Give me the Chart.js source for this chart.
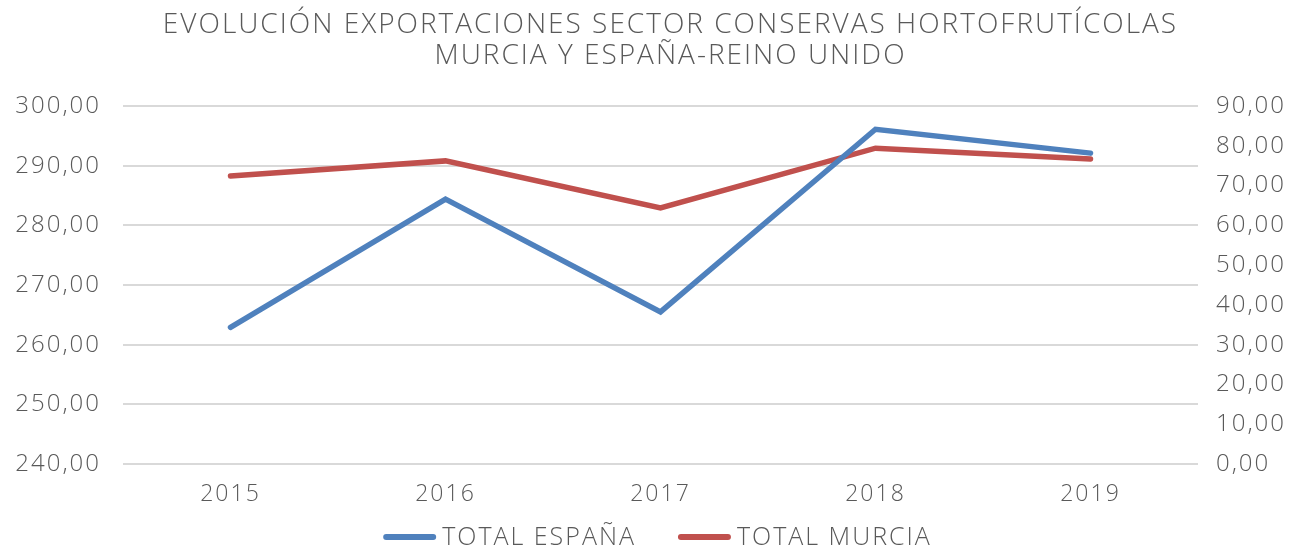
<!DOCTYPE html>
<html>
<head>
<meta charset="utf-8">
<script src="https://cdn.jsdelivr.net/npm/chart.js@4"></script>
<style>
  html, body { margin: 0; padding: 0; background: #fff; }
  #wrap { width: 1297px; height: 550px; }
</style>
</head>
<body>
<div id="wrap"><canvas id="chart" width="1297" height="550"></canvas></div>
<script>
  'use strict';

  var years = ['2015', '2016', '2017', '2018', '2019'];
  var totalEspana = [262.9, 284.4, 265.5, 296.1, 292.1];
  var totalMurcia = [72.4, 76.2, 64.4, 79.4, 76.7];
  var titleLines = ['EVOLUCIÓN EXPORTACIONES SECTOR CONSERVAS HORTOFRUTÍCOLAS', 'MURCIA Y ESPAÑA-REINO UNIDO'];

  var textColor = '#595959';
  var gridColor = '#d9d9d9';
  var fontFamily = '"Open Sans", Lato, sans-serif';

  function fmt(v) {
    return v.toFixed(2).replace('.', ',');
  }

  // letras más espaciadas, la fuente original es más ancha
  var spacing = {
    id: 'spacing',
    beforeUpdate: function (chart) { chart.ctx.letterSpacing = '2px'; },
    beforeDraw: function (chart) { chart.ctx.letterSpacing = '2px'; }
  };

  // título centrado sobre el área del gráfico (un poco a la derecha)
  var titulo = {
    id: 'titulo',
    afterDraw: function (chart) {
      var ctx = chart.ctx;
      ctx.save();
      ctx.letterSpacing = '2px';
      ctx.fillStyle = textColor;
      ctx.font = '300 28px ' + fontFamily;
      ctx.textAlign = 'center';
      ctx.textBaseline = 'middle';
      var cx = (chart.chartArea.left + chart.chartArea.right) / 2 + 10;
      titleLines.forEach(function (t, i) {
        ctx.fillText(t, cx, 25 + i * 31);
      });
      ctx.restore();
    }
  };

  // leyenda abajo: línea corta + texto, como en Excel
  var leyenda = {
    id: 'leyenda',
    afterDraw: function (chart) {
      var ctx = chart.ctx;
      var sets = chart.data.datasets;
      var lineW = 50, gap = 9, itemGap = 42, y = 537;
      ctx.save();
      ctx.letterSpacing = '2px';
      ctx.font = '300 25px ' + fontFamily;
      var widths = sets.map(function (d) { return ctx.measureText(d.label).width; });
      var total = 0;
      widths.forEach(function (w, i) { total += lineW + gap + w + (i > 0 ? itemGap : 0); });
      var x = (chart.chartArea.left + chart.chartArea.right) / 2 - 3 - total / 2;
      sets.forEach(function (d, i) {
        ctx.strokeStyle = d.borderColor;
        ctx.lineWidth = 6;
        ctx.lineCap = 'round';
        ctx.beginPath();
        ctx.moveTo(x + 3, y);
        ctx.lineTo(x + lineW, y);
        ctx.stroke();
        ctx.fillStyle = textColor;
        ctx.textBaseline = 'middle';
        ctx.textAlign = 'left';
        ctx.fillText(d.label, x + lineW + gap, y + 1);
        x += lineW + gap + widths[i] + itemGap;
      });
      ctx.restore();
    }
  };

  new Chart(document.getElementById('chart').getContext('2d'), {
    type: 'line',
    data: {
      labels: years,
      datasets: [{
        label: 'TOTAL ESPAÑA',
        data: totalEspana,
        borderColor: '#4f81bd',
        backgroundColor: '#4f81bd',
        borderWidth: 5.5,
        pointRadius: 0,
        borderCapStyle: 'round',
        yAxisID: 'y'
      }, {
        label: 'TOTAL MURCIA',
        data: totalMurcia,
        borderColor: '#c0504d',
        backgroundColor: '#c0504d',
        borderWidth: 5.5,
        pointRadius: 0,
        borderCapStyle: 'round',
        yAxisID: 'y1'
      }]
    },
    plugins: [spacing, titulo, leyenda],
    options: {
      responsive: false,
      animation: false,
      layout: { padding: { left: 0, right: 0, top: 106, bottom: 36 } },
      plugins: {
        title: { display: false },
        legend: { display: false },
        tooltip: { enabled: false }
      },
      scales: {
        x: {
          offset: true,
          afterFit: function (s) { s.height = 50; },
          grid: { display: false },
          border: { display: false },
          ticks: { color: textColor, font: { family: fontFamily, size: 23, weight: 300 }, padding: 9 }
        },
        y: {
          position: 'left',
          min: 240,
          max: 300,
          afterFit: function (s) { s.width = 123; },
          grid: { color: gridColor, lineWidth: 2, drawTicks: false },
          border: { display: false },
          ticks: {
            stepSize: 10,
            color: textColor,
            padding: 22,
            font: { family: fontFamily, size: 24, weight: 300 },
            callback: function (v) { return fmt(v); }
          }
        },
        y1: {
          position: 'right',
          min: 0,
          max: 90,
          afterFit: function (s) { s.width = 99; },
          grid: { display: false },
          border: { display: false },
          ticks: {
            stepSize: 10,
            color: textColor,
            padding: 10,
            font: { family: fontFamily, size: 24, weight: 300 },
            callback: function (v) { return fmt(v); }
          }
        }
      }
    }
  });
</script>
</body>
</html>
